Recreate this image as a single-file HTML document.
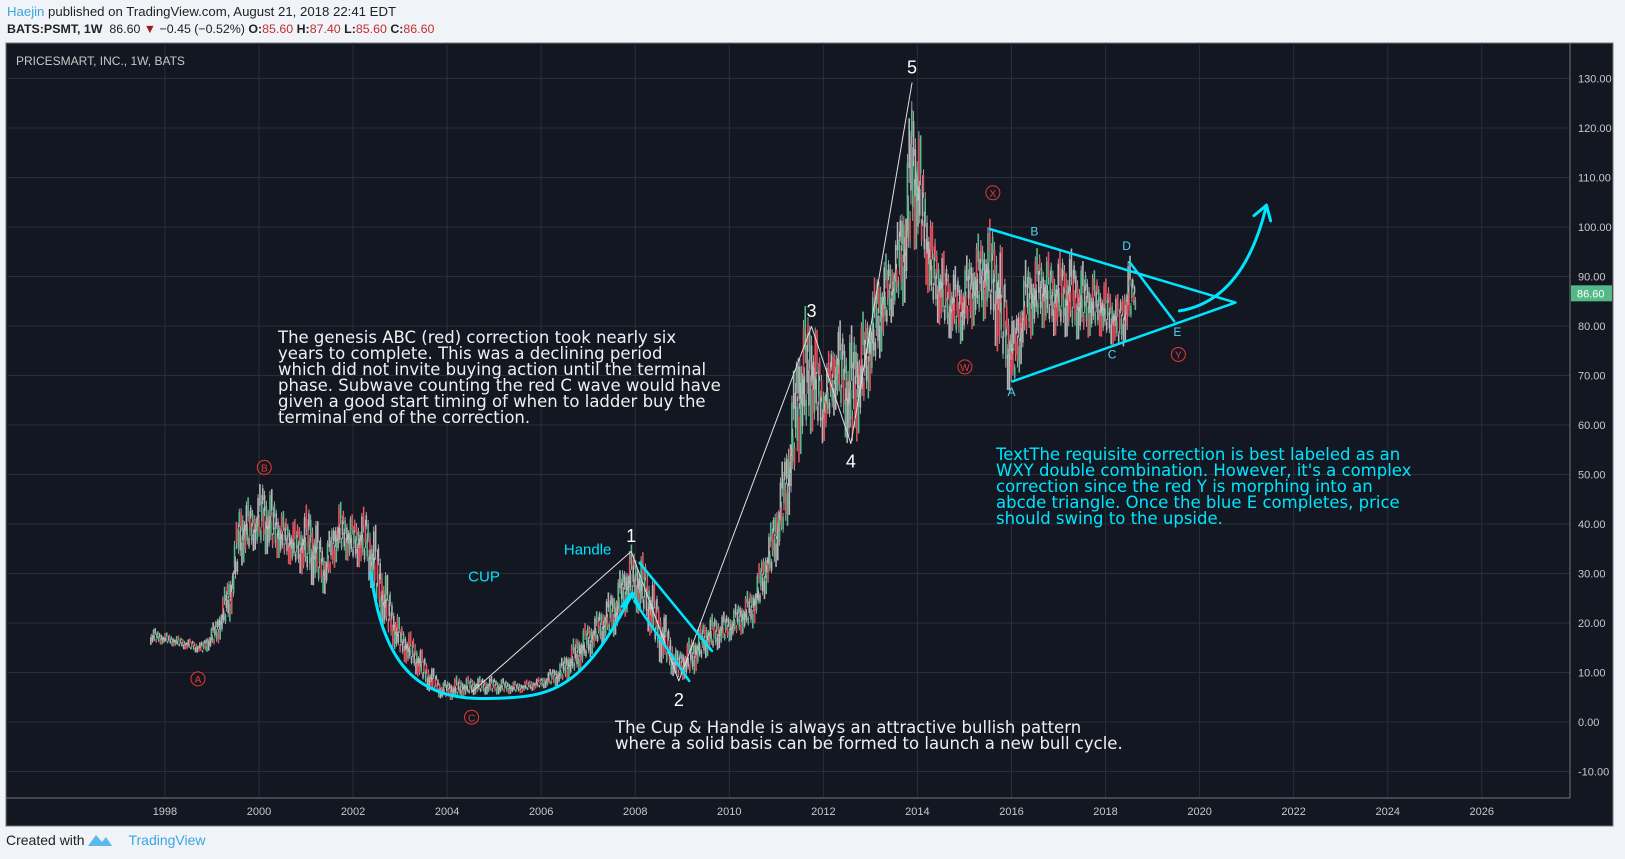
<!DOCTYPE html>
<html><head><meta charset="utf-8"><style>
body{margin:0;width:1625px;height:859px;background:#f0f3f7;font-family:"Liberation Sans",sans-serif;overflow:hidden;position:relative}
.hd{position:absolute;left:7px;font-size:13.2px;color:#222}
</style></head><body>
<div class="hd" style="top:4px"><span style="color:#3aa5e0">Haejin</span> published on TradingView.com, August 21, 2018 22:41 EDT</div>
<div class="hd" style="top:22px;font-size:12.4px"><b>BATS:PSMT, 1W</b> &nbsp;86.60 <span style="color:#9b1c1c">▼</span> −0.45 (−0.52%) <b>O:</b><span style="color:#c0302f">85.60</span> <b>H:</b><span style="color:#c0302f">87.40</span> <b>L:</b><span style="color:#c0302f">85.60</span> <b>C:</b><span style="color:#c0302f">86.60</span></div>
<svg id="c" width="1625" height="859" style="position:absolute;left:0;top:0"></svg>
<div style="position:absolute;left:6px;top:832px;font-size:14px;color:#222">Created with <span style="color:#3aa5e0;margin-left:40px">TradingView</span></div>
<svg style="position:absolute;left:87px;top:832px" width="26" height="16"><path d="M1 14 L9 3 L15 10 L19 5 L25 14 Z" fill="#5bb8e8"/></svg>
<script>
const years=[1997.7,1998,1998.4,1998.8,1999.1,1999.4,1999.6,1999.9,2000.1,2000.5,2000.8,2001.1,2001.4,2001.7,2002,2002.3,2002.5,2002.75,2003,2003.3,2003.6,2003.9,2004.2,2004.6,2005,2005.5,2006,2006.4,2006.8,2007.2,2007.6,2007.9,2008.2,2008.5,2008.9,2009.2,2009.5,2010,2010.5,2010.9,2011.2,2011.5,2011.75,2012,2012.3,2012.6,2012.9,2013.2,2013.5,2013.75,2013.9,2014.05,2014.3,2014.6,2014.9,2015.2,2015.5,2015.7,2015.9,2016.05,2016.3,2016.6,2016.9,2017.2,2017.5,2017.8,2018.1,2018.3,2018.5,2018.6];
const highs=[19,18,17,16,21,31,45,44,49,42,40,44,35,44,41,43,38,28,20,17,12,8,9,9,9,8,9,12,18,22,28,35,33,25,14,17,21,22,27,40,55,80,84,70,80,78,82,92,95,110,129,118,100,93,90,96,100,100,88,80,92,95,93,95,92,90,88,85,94,89];
const lows=[16,16,15,14,16,22,33,36,36,34,32,30,27,35,33,32,24,18,14,11,7,5,5,6,6,6,7,8,11,16,19,25,22,14,9,10,14,17,20,30,40,57,62,58,66,56,66,76,84,88,100,98,85,80,78,82,84,78,70,68,78,82,80,80,79,80,78,76,80,84];
const closes=[17,17,15,15,20,30,40,40,45,38,36,38,30,42,38,40,30,22,16,15,10,6,7,8,8,7,8,11,15,20,26,32,28,18,10,14,18,20,25,38,50,75,70,65,75,60,75,85,90,100,125,110,95,88,82,90,95,85,75,70,85,90,88,85,86,84,82,78,90,86.6];
const priceTicks=[130,120,110,100,90,80,70,60,50,40,30,20,10,0,-10];
const yearTicks=[1998,2000,2002,2004,2006,2008,2010,2012,2014,2016,2018,2020,2022,2024,2026];
const lastPrice=86.6;
const X=y=>259+(y-2000)*47.03, Y=p=>227-(p-100)*4.95;
const s=document.getElementById('c'),NS='http://www.w3.org/2000/svg';
function mk(t,a,p){const e=document.createElementNS(NS,t);for(const k in a)e.setAttribute(k,a[k]);(p||s).appendChild(e);return e;}
let bg=mk('rect',{x:6,y:43,width:1607,height:783,fill:'#131722',stroke:'#777','stroke-width':1});


priceTicks.forEach(p=>{let l=mk('line',{x1:6,x2:1570,y1:Y(p),y2:Y(p),stroke:'#2a2e39'});


let t=mk('text',{x:1578,y:Y(p)+4,fill:'#c8c8c8','font-size':11});t.textContent=p.toFixed(2);

});
yearTicks.forEach(y=>{let l=mk('line',{x1:X(y),x2:X(y),y1:43,y2:798,stroke:'#2a2e39'});


let t=mk('text',{x:X(y),y:815,fill:'#c8c8c8','font-size':11,'text-anchor':'middle'});t.textContent=y;

});
mk('line',{x1:1570,x2:1570,y1:43,y2:798,stroke:'#777'});
mk('line',{x1:6,x2:1570,y1:798,y2:798,stroke:'#777'});
let ti=mk('text',{x:16,y:65,fill:'#c8c8c8','font-size':12});ti.textContent='PRICESMART, INC., 1W, BATS';


const osc=[0.1,0.45,0.25,0.7,0.35,0.9,0.15,0.55,0.8,0.3,0.65,0.05,0.5];
let w=0;
for(let i=0;i<years.length;i++){
 const prev=i?closes[i-1]:closes[0];const nx=i<years.length-1?years[i+1]:years[i]+0.05;
 const nh=i<years.length-1?highs[i+1]:highs[i],nl=i<years.length-1?lows[i+1]:lows[i];
 const n=Math.max(1,Math.round((nx-years[i])*52));
 for(let k=0;k<n;k++){const f=k/n,yr=years[i]+(nx-years[i])*f;
  const h=highs[i]+(nh-highs[i])*f,lo=lows[i]+(nl-lows[i])*f,r=h-lo;
  const o=osc[w%osc.length],o2=osc[(w+5)%osc.length];w++;
  const mid=lo+r*o, half=r*(0.08+0.18*o2);
  const m=w%5;
  const col=m==0?((closes[i]>=prev)?'#53b987':'#eb4d5c'):(m==2?'#e0505e':(m==4?'#5bb98a':'#b4b4b4'));
  let wk=mk('line',{x1:X(yr),x2:X(yr),y1:Y(Math.min(h,mid+half*1.6)),y2:Y(Math.max(lo,mid-half*1.6)),stroke:'#c4c4c4','stroke-width':0.8});
  
  
  let b=mk('line',{x1:X(yr),x2:X(yr),y1:Y(mid+half),y2:Y(mid-half),stroke:col,'stroke-width':1.6});
  
  }
}
let pl=mk('rect',{x:1571,y:Y(lastPrice)-8,width:41,height:16,fill:'#53b987'});


let pt=mk('text',{x:1577,y:Y(lastPrice)+4,fill:'#fff','font-size':11});pt.textContent=lastPrice.toFixed(2);
const k=1.0364,P=(x,y)=>(x*k).toFixed(1)+','+(y*k).toFixed(1);
function path(d,st,w,name){let e=mk('path',{d:d,fill:'none',stroke:st,'stroke-width':w,'stroke-linejoin':'round','stroke-linecap':'round'});

}
path('M'+P(455,668)+' L'+P(609,532)+' L'+P(655,657)+' L'+P(783,315)+' L'+P(821,428)+' L'+P(880,80),'#e0e0e0',1,'elliott-wave-lines');
path('M'+P(358,553)+' C'+P(370,650)+' '+P(410,675)+' '+P(470,674)+' S'+P(560,670)+' '+P(610,573),'#00e5ff',3,'cup-curve');
path('M'+P(600,585)+' L'+P(610,572)+' L'+P(617,586),'#00e5ff',3,'cup-arrowhead');
path('M'+P(617,543)+' L'+P(687,628)+' M'+P(612,580)+' L'+P(665,657),'#00e5ff',2.5,'handle-lines');
path('M'+P(955,221)+' L'+P(1192,292)+' L'+P(977,368)+' M'+P(1090,253)+' L'+P(1133,310),'#00e5ff',2.5,'triangle-lines');
path('M'+P(1138,300)+' Q'+P(1200,290)+' '+P(1222,198),'#00e5ff',3,'upside-arrow');
path('M'+P(1210,208)+' L'+P(1222,198)+' L'+P(1226,213),'#00e5ff',3,'upside-arrowhead');
function txt(x,y,str,col,sz,name){let t=mk('text',{x:x*k,y:y*k,fill:col,'font-size':sz,'text-anchor':'middle'});t.textContent=str;

}
[['1',609,523],['2',655,681],['3',783,306],['4',821,451],['5',880,71]].forEach(a=>txt(a[1],a[2],a[0],'#fff',18,'wave-label'));
[['A',191,655],['B',255,451],['C',455,692],['W',931,354],['X',958,186],['Y',1137,342]].forEach(a=>{
 let c=mk('circle',{cx:a[1]*k,cy:a[2]*k,r:7,fill:'none',stroke:'#e53935','stroke-width':1});
 
 
 txt(a[1],a[2]+4,a[0],'#e53935',10,'red-wave-label');});
[['A',976,382],['B',998,227],['C',1073,346],['D',1087,241],['E',1136,324]].forEach(a=>txt(a[1],a[2],a[0],'#4dd9f0',12,'blue-wave-label'));
txt(467,561,'CUP','#00e5ff',15,'cup-label');txt(567,535,'Handle','#00e5ff',15,'handle-label');
function block(x,y,lines,col,name){const lh=16;lines.forEach((l,i)=>{let t=mk('text',{x:x,y:y+i*lh,fill:col,'font-size':16.5,'font-family':'DejaVu Sans, sans-serif'});t.textContent=l;

});}
block(278,343,['The genesis ABC (red) correction took nearly six','years to complete. This was a  declining period','which did not invite buying action until the terminal','phase. Subwave counting the red C wave would have','given a good start timing of when to ladder buy the','terminal end of the correction.'],'#f0f0f0','genesis-note');
block(996,460,['TextThe requisite correction is best labeled as an','WXY double combination. However, it\'s a complex','correction since the red Y is morphing into an','abcde triangle. Once the blue E completes, price','should swing to the upside.'],'#00e5ff','wxy-note');
block(615,733,['The Cup & Handle is always an attractive bullish pattern','where a solid basis can be formed to launch a new bull cycle.'],'#f0f0f0','cup-handle-note');
</script>
</body></html>
